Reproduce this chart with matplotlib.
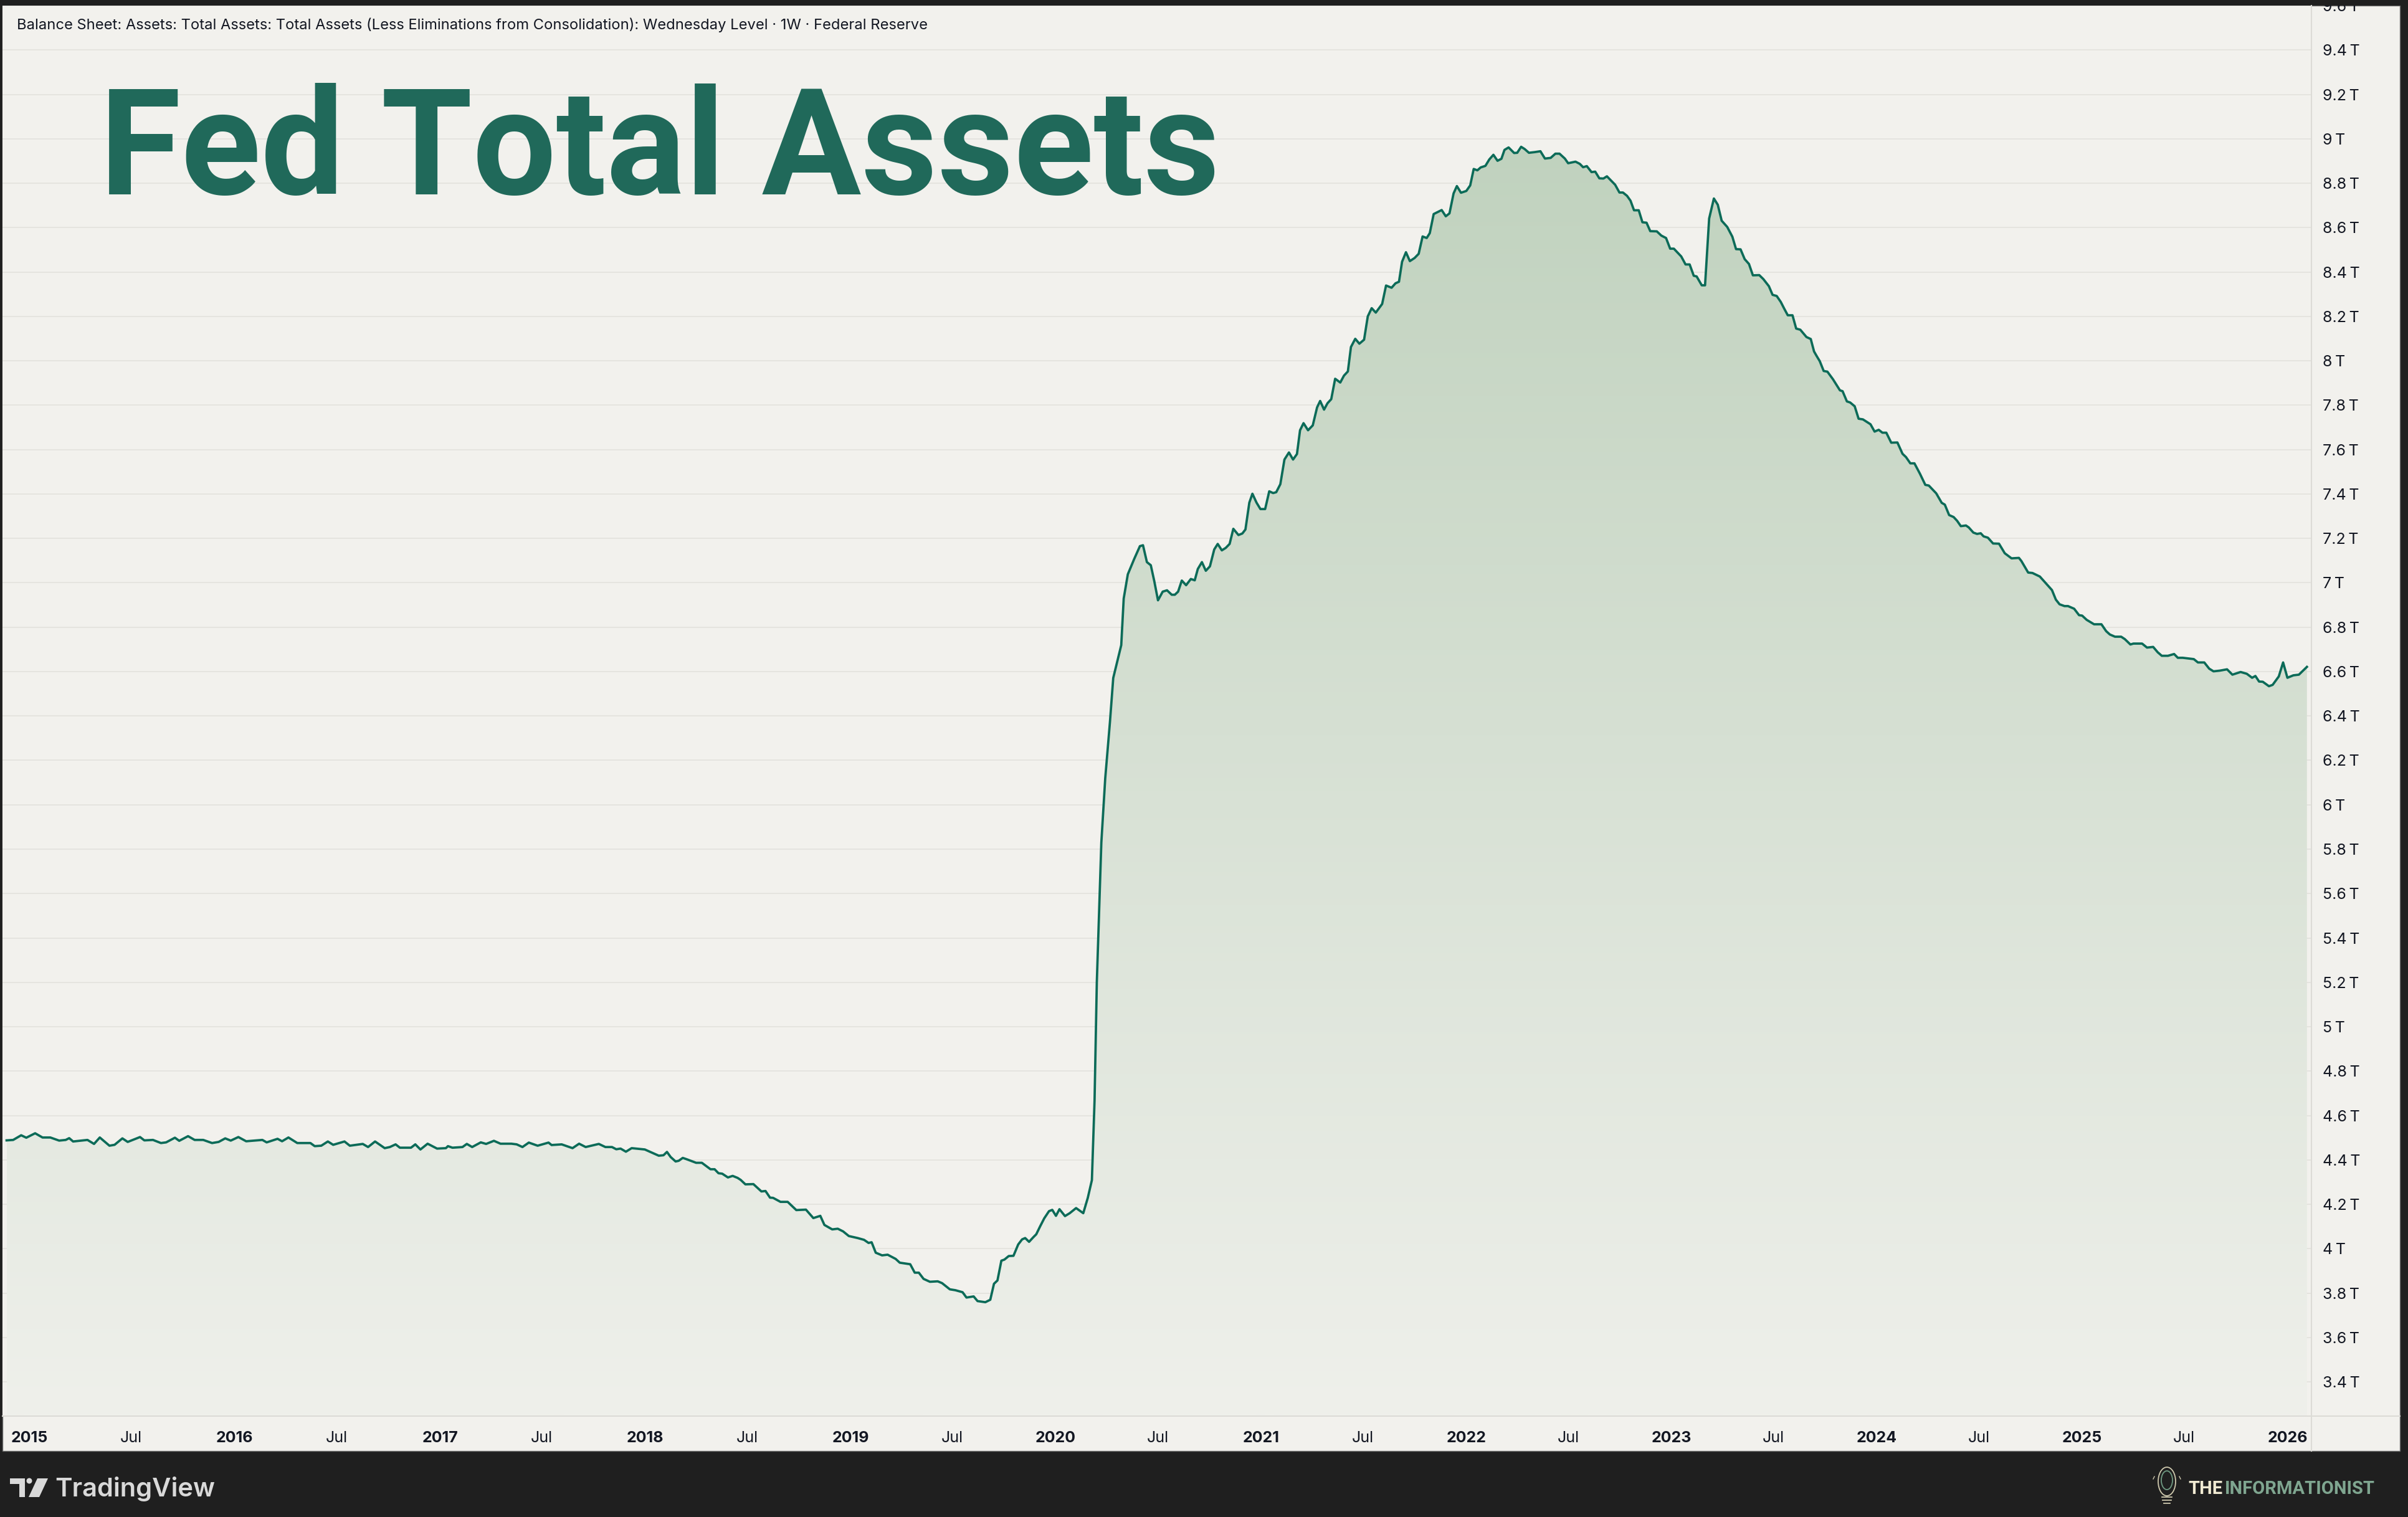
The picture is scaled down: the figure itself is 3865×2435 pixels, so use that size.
import numpy as np
import matplotlib
matplotlib.use("Agg")
import matplotlib.pyplot as plt
from matplotlib.patches import Rectangle, Polygon, Circle, Ellipse, PathPatch

plt.rcParams['font.family'] = ['Inter', 'DejaVu Sans']

W, H = 3865, 2435

# weekly-ish readings of Fed total assets (trillions USD), time in decimal years
t_a = [2014.889, 2014.921, 2014.960, 2014.985, 2015.028, 2015.064, 2015.102, 2015.145, 2015.177, 2015.194,
       2015.213, 2015.283, 2015.315, 2015.343, 2015.390, 2015.415, 2015.453, 2015.479, 2015.539, 2015.560,
       2015.602, 2015.641, 2015.666, 2015.709, 2015.730, 2015.773, 2015.805, 2015.847, 2015.890, 2015.922,
       2015.954, 2015.981, 2016.018, 2016.056, 2016.135, 2016.156, 2016.209, 2016.231, 2016.262, 2016.305,
       2016.369, 2016.390, 2016.422, 2016.454, 2016.480, 2016.535, 2016.561, 2016.624, 2016.650, 2016.684,
       2016.731, 2016.756, 2016.784, 2016.805, 2016.859, 2016.880, 2016.905, 2016.940, 2016.986, 2017.029,
       2017.039, 2017.061, 2017.110, 2017.131, 2017.157, 2017.199, 2017.225, 2017.263, 2017.295, 2017.348,
       2017.374, 2017.402, 2017.433, 2017.476, 2017.529, 2017.544, 2017.593, 2017.646, 2017.678, 2017.710,
       2017.774, 2017.806, 2017.838, 2017.859, 2017.880, 2017.906, 2017.934, 2017.998]
v_a = [4.488, 4.490, 4.511, 4.500, 4.520, 4.501, 4.501, 4.487, 4.490, 4.498,
       4.483, 4.490, 4.472, 4.501, 4.464, 4.468, 4.497, 4.481, 4.503, 4.488,
       4.490, 4.476, 4.479, 4.500, 4.486, 4.507, 4.490, 4.490, 4.476, 4.481,
       4.497, 4.487, 4.503, 4.484, 4.490, 4.479, 4.495, 4.484, 4.501, 4.476,
       4.476, 4.462, 4.464, 4.483, 4.468, 4.483, 4.464, 4.472, 4.458, 4.483,
       4.453, 4.458, 4.470, 4.455, 4.455, 4.470, 4.447, 4.473, 4.451, 4.453,
       4.462, 4.455, 4.458, 4.472, 4.458, 4.479, 4.472, 4.486, 4.473, 4.473,
       4.470, 4.458, 4.478, 4.464, 4.478, 4.467, 4.470, 4.453, 4.473, 4.458,
       4.472, 4.458, 4.458, 4.448, 4.451, 4.437, 4.453, 4.447]

t_b = [2018.066, 2018.089, 2018.106, 2018.124, 2018.148, 2018.163, 2018.183, 2018.202, 2018.248, 2018.276,
       2018.318, 2018.338, 2018.357, 2018.375, 2018.403, 2018.426, 2018.450, 2018.465, 2018.488, 2018.527,
       2018.566, 2018.586, 2018.608, 2018.623, 2018.659, 2018.694, 2018.736, 2018.783, 2018.819, 2018.853,
       2018.873, 2018.911, 2018.938, 2018.964, 2018.992, 2019.035, 2019.066, 2019.088, 2019.103, 2019.123,
       2019.154, 2019.181, 2019.220, 2019.240, 2019.291, 2019.313, 2019.333, 2019.356, 2019.387, 2019.425,
       2019.446, 2019.484, 2019.511, 2019.546, 2019.565, 2019.600, 2019.619, 2019.657, 2019.681, 2019.699,
       2019.716, 2019.735, 2019.750, 2019.771, 2019.794, 2019.817, 2019.836, 2019.851, 2019.870, 2019.890,
       2019.905, 2019.924, 2019.944, 2019.967, 2019.983, 2020.001, 2020.018, 2020.045, 2020.068, 2020.099,
       2020.134, 2020.156, 2020.176]
v_b = [4.419, 4.421, 4.436, 4.413, 4.393, 4.396, 4.409, 4.403, 4.387, 4.387,
       4.358, 4.358, 4.340, 4.338, 4.321, 4.328, 4.319, 4.310, 4.290, 4.291,
       4.258, 4.260, 4.230, 4.229, 4.211, 4.211, 4.174, 4.176, 4.138, 4.148,
       4.107, 4.087, 4.090, 4.078, 4.057, 4.048, 4.040, 4.026, 4.029, 3.982,
       3.970, 3.973, 3.954, 3.937, 3.930, 3.892, 3.892, 3.864, 3.851, 3.853,
       3.845, 3.817, 3.813, 3.804, 3.780, 3.785, 3.764, 3.759, 3.770, 3.842,
       3.857, 3.946, 3.951, 3.967, 3.968, 4.019, 4.042, 4.048, 4.031, 4.051,
       4.065, 4.101, 4.137, 4.169, 4.175, 4.148, 4.178, 4.147, 4.160, 4.183,
       4.160, 4.229, 4.309]

t_c = [2020.189, 2020.200, 2020.222, 2020.241, 2020.264, 2020.280, 2020.319, 2020.331, 2020.351, 2020.382,
       2020.410, 2020.425, 2020.444, 2020.463, 2020.480, 2020.498, 2020.521, 2020.542, 2020.565, 2020.580,
       2020.596, 2020.614, 2020.635, 2020.658, 2020.677, 2020.692, 2020.712, 2020.731, 2020.751, 2020.772,
       2020.789, 2020.809, 2020.828, 2020.847, 2020.865, 2020.890, 2020.909, 2020.924, 2020.943, 2020.958,
       2020.978, 2020.997]
v_c = [4.668, 5.200, 5.829, 6.119, 6.373, 6.571, 6.719, 6.929, 7.038, 7.107,
       7.165, 7.169, 7.093, 7.079, 7.007, 6.921, 6.960, 6.966, 6.946, 6.946,
       6.960, 7.010, 6.989, 7.017, 7.011, 7.062, 7.093, 7.054, 7.074, 7.150,
       7.175, 7.146, 7.157, 7.175, 7.243, 7.215, 7.222, 7.240, 7.361, 7.401,
       7.361, 7.332]

t_d = [2021.020, 2021.040, 2021.059, 2021.074, 2021.094, 2021.114, 2021.136, 2021.156, 2021.175, 2021.190,
       2021.207, 2021.229, 2021.252, 2021.273, 2021.288, 2021.307, 2021.324, 2021.342, 2021.361, 2021.386,
       2021.404, 2021.423, 2021.438, 2021.459, 2021.479, 2021.502, 2021.520, 2021.539, 2021.559, 2021.590,
       2021.609, 2021.636, 2021.655, 2021.672, 2021.687, 2021.706, 2021.725, 2021.748, 2021.768, 2021.787,
       2021.807, 2021.822, 2021.841, 2021.880, 2021.900, 2021.918, 2021.938, 2021.954, 2021.974, 2022.000,
       2022.019, 2022.036, 2022.054, 2022.070, 2022.093, 2022.112, 2022.132, 2022.152, 2022.171, 2022.186,
       2022.206, 2022.233, 2022.248, 2022.267, 2022.284, 2022.305, 2022.333, 2022.361, 2022.383, 2022.411,
       2022.434, 2022.454, 2022.480]
v_d = [7.332, 7.412, 7.404, 7.408, 7.444, 7.555, 7.587, 7.555, 7.580, 7.687,
       7.719, 7.687, 7.709, 7.790, 7.819, 7.780, 7.809, 7.827, 7.919, 7.902,
       7.933, 7.952, 8.062, 8.099, 8.077, 8.095, 8.200, 8.237, 8.217, 8.256,
       8.339, 8.329, 8.349, 8.356, 8.446, 8.489, 8.449, 8.463, 8.482, 8.560,
       8.553, 8.575, 8.661, 8.679, 8.651, 8.664, 8.754, 8.787, 8.757, 8.765,
       8.790, 8.864, 8.858, 8.871, 8.878, 8.907, 8.928, 8.901, 8.910, 8.950,
       8.961, 8.936, 8.937, 8.964, 8.954, 8.937, 8.940, 8.944, 8.911, 8.914,
       8.933, 8.933, 8.911]

t_e = [2022.496, 2022.532, 2022.553, 2022.569, 2022.587, 2022.610, 2022.628, 2022.648, 2022.668, 2022.685,
       2022.702, 2022.725, 2022.746, 2022.763, 2022.783, 2022.800, 2022.817, 2022.840, 2022.858, 2022.878,
       2022.896, 2022.928, 2022.950, 2022.973, 2022.993, 2023.011, 2023.047, 2023.068, 2023.088, 2023.108,
       2023.122, 2023.147, 2023.163, 2023.183, 2023.206, 2023.225, 2023.244, 2023.271, 2023.296, 2023.314,
       2023.336, 2023.356, 2023.377, 2023.396, 2023.427, 2023.447, 2023.474, 2023.492, 2023.512, 2023.532,
       2023.548, 2023.566, 2023.589, 2023.607, 2023.627, 2023.657, 2023.678, 2023.694, 2023.707, 2023.722,
       2023.741, 2023.759, 2023.786, 2023.820, 2023.833, 2023.854, 2023.870, 2023.892, 2023.911, 2023.932,
       2023.969, 2023.989, 2024.009, 2024.027, 2024.046, 2024.070, 2024.100, 2024.125, 2024.142, 2024.163,
       2024.183, 2024.210, 2024.236, 2024.253]
v_e = [8.890, 8.897, 8.887, 8.872, 8.877, 8.850, 8.852, 8.822, 8.821, 8.831,
       8.815, 8.793, 8.758, 8.758, 8.743, 8.721, 8.678, 8.678, 8.624, 8.622,
       8.584, 8.583, 8.564, 8.553, 8.505, 8.505, 8.470, 8.434, 8.434, 8.383,
       8.380, 8.340, 8.340, 8.641, 8.731, 8.703, 8.631, 8.603, 8.559, 8.503,
       8.502, 8.458, 8.436, 8.385, 8.386, 8.368, 8.336, 8.297, 8.292, 8.265,
       8.236, 8.205, 8.205, 8.145, 8.140, 8.107, 8.098, 8.042, 8.021, 7.998,
       7.954, 7.951, 7.917, 7.867, 7.863, 7.817, 7.812, 7.795, 7.739, 7.736,
       7.714, 7.681, 7.689, 7.676, 7.676, 7.631, 7.632, 7.581, 7.566, 7.538,
       7.538, 7.491, 7.441, 7.438]

t_f = [2024.289, 2024.316, 2024.331, 2024.352, 2024.374, 2024.391, 2024.409, 2024.434, 2024.448, 2024.470,
       2024.488, 2024.506, 2024.520, 2024.541, 2024.566, 2024.595, 2024.623, 2024.656, 2024.692, 2024.704,
       2024.737, 2024.758, 2024.794, 2024.824, 2024.853, 2024.872, 2024.890, 2024.914, 2024.931, 2024.961,
       2024.985, 2025.000, 2025.022, 2025.058, 2025.094, 2025.117, 2025.135, 2025.160, 2025.190, 2025.208,
       2025.235, 2025.250, 2025.292, 2025.316, 2025.346, 2025.368, 2025.388, 2025.418, 2025.448, 2025.466,
       2025.490, 2025.544, 2025.564, 2025.595, 2025.619, 2025.640, 2025.670, 2025.706, 2025.732, 2025.772,
       2025.802, 2025.828, 2025.844, 2025.862, 2025.880, 2025.910, 2025.928, 2025.958, 2025.979, 2026.000,
       2026.029, 2026.056, 2026.095]
v_f = [7.403, 7.360, 7.352, 7.305, 7.296, 7.279, 7.255, 7.258, 7.249, 7.226,
       7.220, 7.223, 7.209, 7.203, 7.177, 7.176, 7.133, 7.110, 7.112, 7.098,
       7.046, 7.044, 7.028, 6.997, 6.967, 6.924, 6.903, 6.895, 6.895, 6.883,
       6.854, 6.852, 6.833, 6.813, 6.813, 6.782, 6.767, 6.757, 6.757, 6.746,
       6.722, 6.726, 6.726, 6.708, 6.711, 6.687, 6.671, 6.671, 6.679, 6.662,
       6.662, 6.656, 6.641, 6.641, 6.613, 6.601, 6.604, 6.610, 6.586, 6.598,
       6.590, 6.572, 6.580, 6.555, 6.554, 6.534, 6.540, 6.578, 6.641, 6.572,
       6.583, 6.586, 6.621]

years = list(range(2015, 2027))
year_labels = [str(y) for y in years]
jul_labels = ["Jul"] * 11
header = ("Balance Sheet: Assets: Total Assets: Total Assets (Less Eliminations from "
          "Consolidation): Wednesday Level \u00b7 1W \u00b7 Federal Reserve")
title = "Fed Total Assets"

t = np.array(t_a + t_b + t_c + t_d + t_e + t_f)
v = np.array(v_a + v_b + v_c + v_d + v_e + v_f)

PANEL = '#f2f1ed'
LINE = '#0c6b58'
SEP = '#dcdbd6'
TXT = '#131722'

fig = plt.figure(figsize=(W / 100, H / 100), dpi=100, facecolor='#1f1f1f')


def box(x0, y0, x1, y1):
    return [x0 / W, 1 - y1 / H, (x1 - x0) / W, (y1 - y0) / H]


bg = fig.add_axes([0, 0, 1, 1], zorder=-1)
bg.set_xlim(0, W)
bg.set_ylim(H, 0)
bg.axis('off')
bg.add_patch(Rectangle((4, 9), 3848, 2320, facecolor=PANEL, edgecolor='#6e6e6e', lw=1))

ax = fig.add_axes(box(4, 9, 3710, 2273), zorder=1)
ax.set_facecolor(PANEL)
ylo, yhi = 3.246, 9.60
for s in ax.spines.values():
    s.set_visible(False)

yt = np.round(np.arange(3.4, 9.61, 0.2), 1)
ax.set_yticks(yt)
ax.set_yticklabels([f"{y:g}\u2009T" for y in yt])
ax.grid(axis='y', color='#e4e3de', lw=1.3)
ax.set_axisbelow(True)
ax.tick_params(axis='y', length=0, pad=13, labelsize=18, labelcolor=TXT,
               left=False, labelleft=False, right=True, labelright=True)

xt = []
xl = []
for i, y in enumerate(years):
    xt.append(y)
    xl.append(year_labels[i])
    if i < len(jul_labels):
        xt.append(y + 0.496)
        xl.append(jul_labels[i])
ax.set_xticks(xt)
ax.set_xticklabels(xl)
ax.tick_params(axis='x', length=0, pad=17, labelsize=18, labelcolor=TXT)
for lab in ax.get_xticklabels():
    if lab.get_text() != 'Jul':
        lab.set_fontweight('bold')

# gradient area under the line
fill = ax.fill_between(t, v, ylo, color='none', lw=0)
clip = PathPatch(fill.get_paths()[0], transform=ax.transData, facecolor='none', edgecolor='none')
ax.add_patch(clip)
c_top = np.array([192, 210, 190]) / 255
c_bot = np.array([239, 240, 235]) / 255
g = np.linspace(0, 1, 256)[:, None, None]
img = c_bot + (c_top - c_bot) * g
im = ax.imshow(img, extent=[t[0], t[-1], ylo, 9.0], origin='lower', aspect='auto',
               zorder=2, interpolation='bilinear')
im.set_clip_path(clip)
ax.set_xlim(2014.869, 2026.117)
ax.set_ylim(ylo, yhi)

ax.plot(t, v, color=LINE, lw=2.7, solid_joinstyle='round', zorder=3)

# overlay in pixel coordinates
ov = fig.add_axes([0, 0, 1, 1], zorder=5)
ov.set_xlim(0, W)
ov.set_ylim(H, 0)
ov.axis('off')
ov.patch.set_alpha(0)
ov.add_patch(Rectangle((0, 0), W, 9, facecolor='#1f1f1f', edgecolor='none'))
ov.plot([3710, 3710], [9, 2329], color=SEP, lw=1.5)
ov.plot([4, 3852], [2273, 2273], color=SEP, lw=1.5)

ov.text(27, 40, header, fontsize=17.1, color=TXT, va='center', ha='left')
ov.text(160, 312, title, fontsize=171, fontweight='bold', color='#20695a',
        family=['Roboto', 'DejaVu Sans'], va='baseline', ha='left')

# TradingView mark
ov.add_patch(Polygon([(16, 2373), (40, 2373), (40, 2403), (31, 2403), (31, 2382), (16, 2382)],
                     closed=True, facecolor='#d9d9d9', edgecolor='none'))
ov.add_patch(Circle((47, 2377), 4.5, facecolor='#d9d9d9', edgecolor='none'))
ov.add_patch(Polygon([(60, 2373), (77, 2373), (63, 2403), (46, 2403)],
                     closed=True, facecolor='#d9d9d9', edgecolor='none'))
ov.text(88, 2390, "TradingView", fontsize=30, fontweight='semibold', color='#d9d9d9',
        va='center', ha='left')

# The Informationist mark
ov.add_patch(Ellipse((3478, 2378), 28, 46, facecolor='none', edgecolor='#cfc9ae', lw=1.3))
ov.add_patch(Ellipse((3478, 2376), 18, 30, facecolor='none', edgecolor='#6f9a82', lw=1.3))
for dx, dy0, dy1 in [(-20, 2370, 2374), (20, 2370, 2374)]:
    ov.plot([3478 + dx, 3478 + dx * 1.1], [dy0, dy1], color='#cfc9ae', lw=1)
ov.plot([3470, 3486], [2403, 2403], color='#cfc9ae', lw=1.3)
ov.plot([3471, 3485], [2408, 2408], color='#cfc9ae', lw=1.3)
ov.plot([3473, 3483], [2413, 2413], color='#cfc9ae', lw=1.3)
ov.text(3512, 2390, "THE", fontsize=21, fontweight='bold', color='#f1ebd3',
        family=['Roboto', 'DejaVu Sans'], va='center', ha='left')
ov.text(3571, 2390, "INFORMATIONIST", fontsize=21, fontweight='bold', color='#7fa690',
        family=['Roboto', 'DejaVu Sans'], va='center', ha='left')

fig.savefig('out.png', dpi=100, facecolor=fig.get_facecolor())
